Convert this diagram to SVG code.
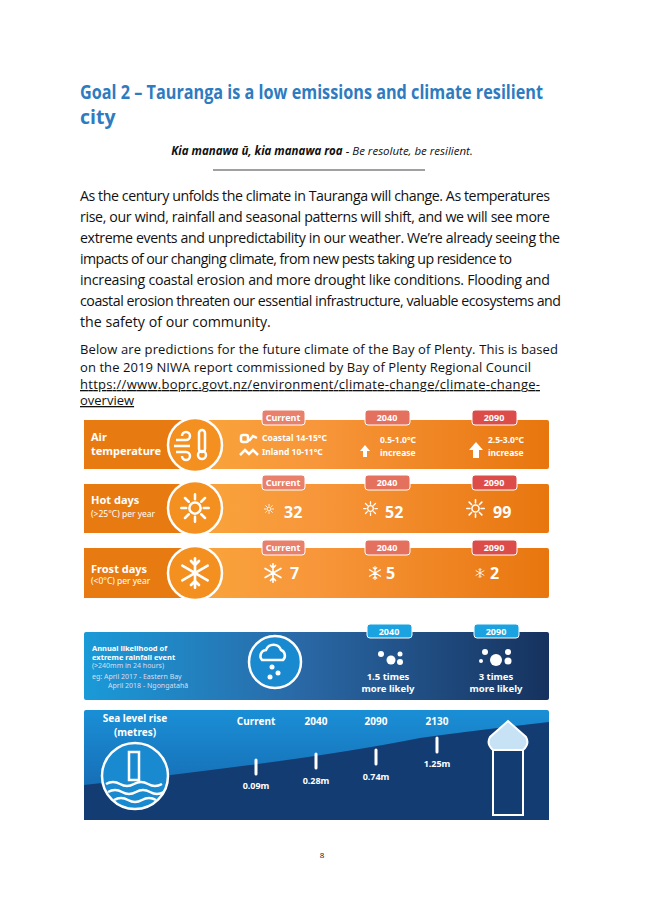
<svg xmlns="http://www.w3.org/2000/svg" width="645" height="912" viewBox="0 0 645 912">
<defs>
<style>
.b{font-family:"Open Sans","Noto Sans",sans-serif;font-size:14.2px;fill:#111}
.s{font-size:13px}
.w{font-family:"Noto Sans","Liberation Sans",sans-serif;fill:#fff;font-weight:bold}
.t{font-family:"Noto Sans","Liberation Sans",sans-serif;fill:#fff;font-weight:bold;font-size:9px;text-anchor:middle}
.ic{fill:none;stroke:#fff;stroke-width:2.5}
</style>
<symbol id="sun" viewBox="-12 -12 24 24" overflow="visible"><circle r="4.5" fill="none" stroke="#fff" stroke-width="2"/><path d="M0-11v4M0 7v4M-11 0h4M7 0h4M-8-8l3 3M5 5l3 3M8-8l-3 3M-8 8l3-3" stroke="#fff" stroke-width="2" stroke-linecap="round"/></symbol>
<symbol id="flake" viewBox="-12 -12 24 24" overflow="visible"><path d="M0-11v22M-9.5-5.5l19 11M-9.5 5.5l19-11M-3-9l3 3 3-3M-3 9l3-3 3 3" fill="none" stroke="#fff" stroke-width="2" stroke-linecap="round"/></symbol>
<linearGradient id="og" x1="0" x2="1" y1="0" y2="0"><stop offset="0" stop-color="#fbb03b"/><stop offset="0.5" stop-color="#f7963a"/><stop offset="1" stop-color="#e8760e"/></linearGradient>
<linearGradient id="bg" x1="0" x2="1" y1="0" y2="0"><stop offset="0" stop-color="#1a9ad8"/><stop offset="0.45" stop-color="#2a6aa8"/><stop offset="1" stop-color="#16325e"/></linearGradient>
<linearGradient id="sg" x1="0" x2="0" y1="0" y2="1"><stop offset="0" stop-color="#1a8fd6"/><stop offset="1" stop-color="#1560a8"/></linearGradient>
</defs>
<rect width="645" height="912" fill="#fff"/>
<g id="title">
<text x="80" y="99" textLength="463" lengthAdjust="spacingAndGlyphs" font-family="Open Sans,Noto Sans,sans-serif" font-size="19.5" font-weight="bold" fill="#2e7bbf">Goal 2 – Tauranga is a low emissions and climate resilient</text>
<text x="80" y="124" font-family="Open Sans,Noto Sans,sans-serif" font-size="19.5" font-weight="bold" fill="#2e7bbf">city</text>
<text x="322" y="155" text-anchor="middle" font-family="Open Sans,Noto Sans,sans-serif" font-size="11.5" font-style="italic" fill="#111"><tspan font-weight="bold">Kia manawa ū, kia manawa roa</tspan> - Be resolute, be resilient.</text>
<line x1="213" y1="170" x2="425" y2="170" stroke="#111" stroke-width="0.8"/>
</g>
<g id="body">
<text class="b" x="80" y="201" textLength="470">As the century unfolds the climate in Tauranga will change.  As temperatures</text>
<text class="b" x="80" y="222" textLength="470">rise, our wind, rainfall and seasonal patterns will shift, and we will see more</text>
<text class="b" x="80" y="243" textLength="480">extreme events and unpredictability in our weather.  We’re already seeing the</text>
<text class="b" x="80" y="264" textLength="432">impacts of our changing climate, from new pests taking up residence to</text>
<text class="b" x="80" y="285" textLength="470">increasing coastal erosion and more drought like conditions. Flooding and</text>
<text class="b" x="80" y="306" textLength="481">coastal erosion threaten our essential infrastructure, valuable ecosystems and</text>
<text class="b" x="80" y="327">the safety of our community.</text>
<text class="b s" x="80" y="354" textLength="478">Below are predictions for the future climate of the Bay of Plenty. This is based</text>
<text class="b s" x="80" y="372" textLength="451">on the 2019 NIWA report commissioned by Bay of Plenty Regional Council</text>
<text class="b s" x="80" y="389" textLength="460" fill="#0563c1" text-decoration="underline">https://www.boprc.govt.nz/environment/climate-change/climate-change-</text>
<text class="b s" x="80" y="405" fill="#0563c1" text-decoration="underline">overview</text>
</g>
<g id="air">
<rect x="84" y="420" width="465" height="49" rx="2" fill="url(#og)"/>
<path d="M84 420H185V469H84Z" fill="#e87a12"/>
<circle cx="195" cy="445" r="27" fill="#f39020" stroke="#fff" stroke-width="2.5"/>
<path class="ic" d="M176 440h10a4 4 0 1 0-4-4M174 446h16M176 452h10a4 4 0 1 1-4 4"/><rect x="199" y="430" width="6" height="22" rx="3" class="ic"/><circle cx="202" cy="455" r="4" class="ic"/>
<text class="w" x="91" y="441" font-size="11">Air</text><text class="w" x="91" y="455" font-size="11">temperature</text>
<text class="w" x="262" y="441" font-size="8.5">Coastal 14-15°C</text><text class="w" x="262" y="455" font-size="8.5">Inland 10-11°C</text>
<path class="ic" stroke-width="1.2" d="M240 455l5-5 4 4 4-4 5 5"/><rect x="241" y="435" width="7" height="7" rx="2" class="ic" stroke-width="1.2"/><path class="ic" stroke-width="1.2" d="M249 441l4-5 4 2"/>
<path d="M365 445l-5 6h3v6h4v-6h3z" fill="#fff"/><text class="w" x="380" y="443" font-size="8.5">0.5-1.0°C</text><text class="w" x="380" y="456" font-size="8.5">increase</text>
<path d="M476 442l-7 8h4v8h6v-8h4z" fill="#fff"/><text class="w" x="488" y="443" font-size="8.5">2.5-3.0°C</text><text class="w" x="488" y="456" font-size="8.5">increase</text>
</g>
<g id="hot">
<rect x="84" y="484" width="465" height="49" rx="2" fill="url(#og)"/>
<path d="M84 484H185V533H84Z" fill="#e87a12"/>
<circle cx="195" cy="508" r="27" fill="#f39020" stroke="#fff" stroke-width="2.5"/>
<use href="#sun" x="180" y="493" width="30" height="30"/>
<text class="w" x="91" y="504" font-size="11">Hot days</text><text x="91" y="517" font-family="Noto Sans,sans-serif" font-size="8.5" fill="#fff">(&gt;25°C) per year</text>
<use href="#sun" x="264" y="504" width="10" height="10"/><text class="w" x="284" y="518" font-size="16">32</text>
<use href="#sun" x="363" y="501" width="15" height="15"/><text class="w" x="385" y="518" font-size="16">52</text>
<use href="#sun" x="466" y="499" width="19" height="19"/><text class="w" x="493" y="518" font-size="16">99</text>
</g>
<g id="frost">
<rect x="84" y="548" width="465" height="50" rx="2" fill="url(#og)"/>
<path d="M84 548H185V598H84Z" fill="#e87a12"/>
<circle cx="195" cy="573" r="27" fill="#f39020" stroke="#fff" stroke-width="2.5"/>
<use href="#flake" x="179" y="557" width="32" height="32"/>
<text class="w" x="91" y="573" font-size="11">Frost days</text><text x="91" y="584" font-family="Noto Sans,sans-serif" font-size="8.5" fill="#fff">(&lt;0°C) per year</text>
<use href="#flake" x="263" y="563" width="20" height="20"/><text class="w" x="290" y="579" font-size="16">7</text>
<use href="#flake" x="368" y="566" width="14" height="14"/><text class="w" x="386" y="579" font-size="16">5</text>
<use href="#flake" x="475" y="568" width="10" height="10"/><text class="w" x="490" y="579" font-size="16">2</text>
</g>
<g id="tags">
<rect x="262" y="410" width="43" height="15" rx="3" fill="#e9806c" stroke="#fff"/><text class="t" x="283" y="421">Current</text>
<rect x="365" y="410" width="45" height="15" rx="3" fill="#e4705e" stroke="#fff"/><text class="t" x="387" y="421">2040</text>
<rect x="472" y="410" width="45" height="15" rx="3" fill="#dc4d4a" stroke="#fff"/><text class="t" x="494" y="421">2090</text>
<rect x="262" y="475" width="43" height="15" rx="3" fill="#e9806c" stroke="#fff"/><text class="t" x="283" y="486">Current</text>
<rect x="365" y="475" width="45" height="15" rx="3" fill="#e4705e" stroke="#fff"/><text class="t" x="387" y="486">2040</text>
<rect x="472" y="475" width="45" height="15" rx="3" fill="#dc4d4a" stroke="#fff"/><text class="t" x="494" y="486">2090</text>
<rect x="262" y="540" width="43" height="15" rx="3" fill="#e9806c" stroke="#fff"/><text class="t" x="283" y="551">Current</text>
<rect x="365" y="540" width="45" height="15" rx="3" fill="#e4705e" stroke="#fff"/><text class="t" x="387" y="551">2040</text>
<rect x="472" y="540" width="45" height="15" rx="3" fill="#dc4d4a" stroke="#fff"/><text class="t" x="494" y="551">2090</text>
</g>
<g id="rain">
<rect x="84" y="632" width="465" height="68" rx="2" fill="url(#bg)"/>
<rect x="367" y="624" width="45" height="14" rx="3" fill="#1aa3e0" stroke="#fff"/><text class="t" x="389" y="635">2040</text>
<rect x="474" y="624" width="45" height="14" rx="3" fill="#1aa3e0" stroke="#fff"/><text class="t" x="496" y="635">2090</text>
<text class="w" x="92" y="651" font-size="7.5">Annual likelihood of</text><text class="w" x="92" y="660" font-size="7.5">extreme rainfall event</text>
<g font-family="Noto Sans,sans-serif" font-size="7" fill="#dde">
<text x="92" y="668">(&gt;240mm in 24 hours)</text><text x="92" y="679">eg:  April 2017 - Eastern Bay</text><text x="108" y="688">April 2018 - Ngongatahā</text></g>
<circle cx="275" cy="662" r="26" fill="#1a8ad0" stroke="#fff" stroke-width="2.5"/>
<path d="M262 660a6 6 0 0 1 4-10 8 8 0 0 1 15 0 6 6 0 0 1 2 10z" class="ic" stroke-width="2"/>
<circle cx="272" cy="667" r="2.5" fill="#fff"/><circle cx="278" cy="673" r="2.5" fill="#fff"/><circle cx="270" cy="677" r="2.5" fill="#fff"/>
<circle cx="381" cy="654" r="3" fill="#fff"/><circle cx="391" cy="660" r="4.5" fill="#fff"/><circle cx="400" cy="654" r="2.5" fill="#fff"/><circle cx="400" cy="662" r="3" fill="#fff"/>
<text class="w" x="388" y="680" font-size="9.5" text-anchor="middle">1.5 times</text><text class="w" x="388" y="692" font-size="9.5" text-anchor="middle">more likely</text>
<circle cx="485" cy="652" r="3" fill="#fff"/><circle cx="496" cy="660" r="6" fill="#fff"/><circle cx="508" cy="652" r="3" fill="#fff"/><circle cx="508" cy="661" r="3.5" fill="#fff"/><circle cx="481" cy="661" r="2" fill="#fff"/>
<text class="w" x="496" y="680" font-size="9.5" text-anchor="middle">3 times</text><text class="w" x="496" y="692" font-size="9.5" text-anchor="middle">more likely</text>
</g>
<g id="sea">
<rect x="84" y="710" width="465" height="110" rx="2" fill="url(#sg)"/>
<path d="M84 785 Q150 778 250 765 Q350 752 420 738 Q480 730 549 722 V820 H84Z" fill="#123c72"/>
<text class="w" x="135" y="722" font-size="10" text-anchor="middle">Sea level rise</text><text class="w" x="135" y="736" font-size="10" text-anchor="middle">(metres)</text>
<circle cx="135" cy="776" r="33" fill="#1a8ad0" stroke="#fff" stroke-width="2.5"/>
<rect x="129" y="752" width="10" height="28" class="ic" stroke-width="2"/>
<path class="ic" stroke-width="2" d="M106 784q7-4 14 0t14 0 14 0 14 0M108 792q7-4 14 0t14 0 14 0 14 0M114 800q7-4 14 0t14 0 14 0"/>
<g class="w" font-size="10" text-anchor="middle">
<text x="256" y="725">Current</text><text x="316" y="725">2040</text><text x="376" y="725">2090</text><text x="437" y="725">2130</text>
<text x="256" y="789" font-size="9">0.09m</text><text x="316" y="784" font-size="9">0.28m</text><text x="376" y="780" font-size="9">0.74m</text><text x="437" y="767" font-size="9">1.25m</text></g>
<g stroke="#fff" stroke-width="3" stroke-linecap="round"><path d="M256 760v14M316 754v14M376 750v14M437 738v14"/></g>
<path d="M493 750 Q486 744 490 737 L508 721 L526 737 Q530 744 523 750 Z" fill="#c8e2f5" stroke="#fff" stroke-width="2"/>
<rect x="493" y="750" width="30" height="65" fill="none" stroke="#fff" stroke-width="2"/>
</g>
<text x="322" y="858" text-anchor="middle" font-family="Open Sans,sans-serif" font-size="8" fill="#111">8</text>
</svg>
